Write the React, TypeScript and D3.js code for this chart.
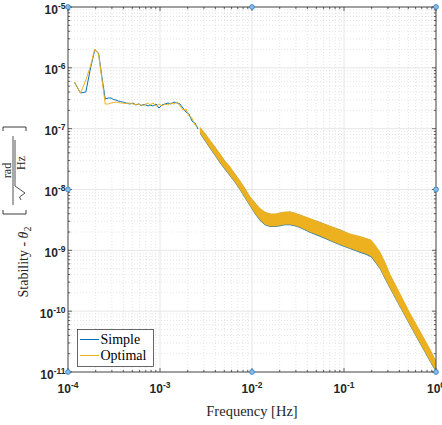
import React from 'react';
import * as d3 from 'd3';

const W = 442;
const H = 425;
const PL = 68, PR = 436, PT = 7, PB = 372;

// Low-frequency samples (sparse, linearly spaced bins)
const lowFreq = [1.172e-4, 1.367e-4, 1.5625e-4, 1.758e-4, 1.953e-4, 2.148e-4, 2.344e-4, 2.539e-4, 2.734e-4, 2.93e-4, 3.125e-4, 3.32e-4, 3.516e-4, 3.711e-4, 3.906e-4, 4.297e-4, 4.688e-4, 5.078e-4, 5.469e-4, 5.859e-4, 6.25e-4, 6.64e-4, 7.03e-4, 7.42e-4, 7.81e-4];
const simpleLow = [5.848e-7, 3.857e-7, 4.006e-7, 9.94e-7, 1.964e-6, 1.753e-6, 6.805e-7, 3.073e-7, 3.192e-7, 3.192e-7, 3.016e-7, 2.959e-7, 2.849e-7, 2.796e-7, 2.744e-7, 2.641e-7, 2.543e-7, 2.641e-7, 2.449e-7, 2.543e-7, 2.403e-7, 2.495e-7, 2.449e-7, 2.357e-7, 2.449e-7];
const optimalLow = [5.848e-7, 3.857e-7, 6.308e-7, 1.072e-6, 2.039e-6, 1.688e-6, 6.308e-7, 2.543e-7, 2.543e-7, 2.641e-7, 2.692e-7, 2.744e-7, 2.692e-7, 2.641e-7, 2.641e-7, 2.592e-7, 2.641e-7, 2.543e-7, 2.495e-7, 2.543e-7, 2.449e-7, 2.403e-7, 2.543e-7, 2.641e-7, 2.449e-7];

// Mid-frequency samples
const midFreq = [8.39e-4, 9.05e-4, 9.75e-4, 1.051e-3, 1.133e-3, 1.222e-3, 1.317e-3, 1.42e-3, 1.53e-3, 1.65e-3, 1.778e-3, 1.917e-3, 2.066e-3, 2.227e-3, 2.401e-3, 2.588e-3];
const simpleMid = [2.357e-7, 2.543e-7, 2.185e-7, 2.449e-7, 2.543e-7, 2.641e-7, 2.543e-7, 2.744e-7, 2.641e-7, 2.543e-7, 2.185e-7, 1.879e-7, 1.742e-7, 1.336e-7, 1.239e-7, 9.87e-8];
const optimalMid = [2.641e-7, 2.357e-7, 2.543e-7, 2.357e-7, 2.543e-7, 2.449e-7, 2.641e-7, 2.543e-7, 2.744e-7, 2.357e-7, 2.026e-7, 2.104e-7, 1.615e-7, 1.497e-7, 1.149e-7, 1.065e-7];

// High-frequency dense region: envelope of the noisy spectra
const bandFreq = [2.721e-3, 3.084e-3, 3.496e-3, 3.962e-3, 4.49e-3, 5.088e-3, 5.768e-3, 6.536e-3, 7.407e-3, 8.394e-3, 9.512e-3, 1.078e-2, 1.222e-2, 1.384e-2, 1.569e-2, 1.778e-2, 2.015e-2, 2.284e-2, 2.588e-2, 2.934e-2, 3.325e-2, 4.27e-2, 5.484e-2, 7.043e-2, 9.048e-2, 0.1162, 0.1492, 0.1734, 0.1965, 0.2173, 0.2462, 0.2791, 0.3162, 0.4062, 0.5217, 0.67, 0.8606, 1.0];
const simpleUpper = [1.03e-7, 8.4e-8, 6.3e-8, 5.05e-8, 3.8e-8, 2.98e-8, 2.3e-8, 1.82e-8, 1.37e-8, 1.05e-8, 7.5e-9, 6.1e-9, 4.8e-9, 4.2e-9, 4.0e-9, 3.9e-9, 4.15e-9, 4.2e-9, 4.35e-9, 4.05e-9, 3.85e-9, 3.3e-9, 2.92e-9, 2.48e-9, 2.2e-9, 1.83e-9, 1.67e-9, 1.58e-9, 1.46e-9, 1.2e-9, 9.2e-10, 6.25e-10, 4.0e-10, 1.9e-10, 9.1e-11, 4.6e-11, 2.35e-11, 1.5e-11];
const simpleLower = [8.23e-8, 6.2e-8, 4.67e-8, 3.58e-8, 2.69e-8, 2.11e-8, 1.65e-8, 1.29e-8, 9.7e-9, 7.16e-9, 5.29e-9, 3.93e-9, 3.07e-9, 2.59e-9, 2.41e-9, 2.41e-9, 2.49e-9, 2.59e-9, 2.59e-9, 2.49e-9, 2.32e-9, 1.95e-9, 1.68e-9, 1.42e-9, 1.21e-9, 1.05e-9, 9.16e-10, 8.49e-10, 7.72e-10, 6.39e-10, 4.9e-10, 3.36e-10, 2.33e-10, 1.157e-10, 5.74e-11, 2.9e-11, 1.47e-11, 1.0e-11];
const optimalUpper = [1.065e-7, 8.327e-8, 6.511e-8, 4.995e-8, 3.906e-8, 2.94e-8, 2.388e-8, 1.797e-8, 1.405e-8, 1.038e-8, 7.67e-9, 6.06e-9, 4.92e-9, 4.31e-9, 4.0e-9, 4.0e-9, 4.15e-9, 4.31e-9, 4.31e-9, 4.15e-9, 3.85e-9, 3.37e-9, 2.9e-9, 2.54e-9, 2.18e-9, 1.88e-9, 1.71e-9, 1.58e-9, 1.49e-9, 1.24e-9, 9.5e-10, 6.4e-10, 4.081e-10, 1.951e-10, 9.326e-11, 4.719e-11, 2.387e-11, 1.515e-11];
const optimalLower = [8.486e-8, 6.389e-8, 4.81e-8, 3.69e-8, 2.778e-8, 2.172e-8, 1.698e-8, 1.328e-8, 1.0e-8, 7.386e-9, 5.456e-9, 4.05e-9, 3.17e-9, 2.67e-9, 2.48e-9, 2.48e-9, 2.57e-9, 2.67e-9, 2.67e-9, 2.57e-9, 2.39e-9, 2.01e-9, 1.73e-9, 1.46e-9, 1.25e-9, 1.08e-9, 9.44e-10, 8.75e-10, 7.96e-10, 6.59e-10, 5.05e-10, 3.46e-10, 2.402e-10, 1.193e-10, 5.922e-11, 2.995e-11, 1.515e-11, 1.038e-11];

const xTickExps = [-4, -3, -2, -1, 0];
const yTickExps = [-11, -10, -9, -8, -7, -6, -5];
const markerFreq = [1e-4, 1e-2, 1, 1e-4, 1, 1e-4, 1e-2, 1];
const markerVal = [1e-5, 1e-5, 1e-5, 1e-8, 1e-8, 1e-11, 1e-11, 1e-11];
const seriesNames = ['Simple', 'Optimal'];
const seriesColors = ['#0072BD', '#EDB120'];

const x = d3.scaleLog().domain([1e-4, 1]).range([PL, PR]);
const y = d3.scaleLog().domain([1e-11, 1e-5]).range([PB, PT]);

const AX = '#262626';
const TICKFONT = "'Liberation Sans', Arial, sans-serif";
const SERIF = "'Liberation Serif', 'Times New Roman', serif";

function minorVals(lo: number, hi: number): number[] {
  const out: number[] = [];
  for (let e = lo; e < hi; e++) {
    for (let m = 2; m <= 9; m++) out.push(m * Math.pow(10, e));
  }
  return out;
}

export default function App() {
  const line = d3.line<[number, number]>().x(d => x(d[0])).y(d => y(d[1]));
  const idx = bandFreq.map((_, i) => i);

  const simplePts: [number, number][] = [
    ...lowFreq.map((f, i) => [f, simpleLow[i]] as [number, number]),
    ...midFreq.map((f, i) => [f, simpleMid[i]] as [number, number]),
  ];
  const optimalPts: [number, number][] = [
    ...lowFreq.map((f, i) => [f, optimalLow[i]] as [number, number]),
    ...midFreq.map((f, i) => [f, optimalMid[i]] as [number, number]),
  ];
  const simpleBand = d3.area<number>().x(i => x(bandFreq[i])).y0(i => y(simpleLower[i])).y1(i => y(simpleUpper[i]))(idx) || '';
  const optimalBand = d3.area<number>().x(i => x(bandFreq[i])).y0(i => y(optimalLower[i])).y1(i => y(optimalUpper[i]))(idx) || '';

  const xMinor = minorVals(-4, 0);
  const yMinor = minorVals(-11, -5);
  const xMajor = xTickExps.map(e => Math.pow(10, e));
  const yMajor = yTickExps.map(e => Math.pow(10, e));

  return (
    <svg width={W} height={H} style={{ position: 'absolute', left: 0, top: 0, background: '#fff' }}>
      <defs>
        <clipPath id="plotclip">
          <rect x={PL} y={PT} width={PR - PL} height={PB - PT} />
        </clipPath>
      </defs>
      <rect x={0} y={0} width={W} height={H} fill="#fff" />
      {/* minor grid */}
      <g stroke="#d4d4d4" strokeWidth={0.6} strokeDasharray="1,2">
        {xMinor.map((v, i) => <line key={'xm' + i} x1={x(v)} x2={x(v)} y1={PT} y2={PB} />)}
        {yMinor.map((v, i) => <line key={'ym' + i} x1={PL} x2={PR} y1={y(v)} y2={y(v)} />)}
      </g>
      {/* major grid */}
      <g stroke="#e0e0e0" strokeWidth={0.8}>
        {xMajor.map((v, i) => <line key={'xM' + i} x1={x(v)} x2={x(v)} y1={PT} y2={PB} />)}
        {yMajor.map((v, i) => <line key={'yM' + i} x1={PL} x2={PR} y1={y(v)} y2={y(v)} />)}
      </g>
      {/* data */}
      <g clipPath="url(#plotclip)">
        <path d={line(simplePts) || ''} fill="none" stroke={seriesColors[0]} strokeWidth={1} />
        <path d={simpleBand} fill={seriesColors[0]} stroke="none" />
        <path d={line(optimalPts) || ''} fill="none" stroke={seriesColors[1]} strokeWidth={1} />
        <path d={optimalBand} fill={seriesColors[1]} stroke={seriesColors[1]} strokeWidth={0.4} />
      </g>
      {/* axes box */}
      <rect x={PL} y={PT} width={PR - PL} height={PB - PT} fill="none" stroke={AX} strokeWidth={0.8} />
      <g stroke={AX} strokeWidth={0.7}>
        {xMajor.map((v, i) => (
          <g key={'xt' + i}>
            <line x1={x(v)} x2={x(v)} y1={PB} y2={PB - 4} />
            <line x1={x(v)} x2={x(v)} y1={PT} y2={PT + 4} />
          </g>
        ))}
        {xMinor.map((v, i) => (
          <g key={'xmt' + i}>
            <line x1={x(v)} x2={x(v)} y1={PB} y2={PB - 2.2} />
            <line x1={x(v)} x2={x(v)} y1={PT} y2={PT + 2.2} />
          </g>
        ))}
        {yMajor.map((v, i) => (
          <g key={'yt' + i}>
            <line x1={PL} x2={PL + 4} y1={y(v)} y2={y(v)} />
            <line x1={PR} x2={PR - 4} y1={y(v)} y2={y(v)} />
          </g>
        ))}
        {yMinor.map((v, i) => (
          <g key={'ymt' + i}>
            <line x1={PL} x2={PL + 2.2} y1={y(v)} y2={y(v)} />
            <line x1={PR} x2={PR - 2.2} y1={y(v)} y2={y(v)} />
          </g>
        ))}
      </g>
      {/* markers */}
      {markerFreq.map((f, i) => (
        <circle key={'mk' + i} cx={x(f)} cy={y(markerVal[i])} r={2.4} fill="#8cbce6" stroke="#2a7ec4" strokeWidth={0.8} />
      ))}
      {/* tick labels */}
      <g fontFamily={TICKFONT} fontWeight="bold" fill={AX}>
        {xTickExps.map((e, i) => (
          <text key={'xl' + i} x={x(Math.pow(10, e))} y={393} textAnchor="middle" fontSize={12}>
            10<tspan fontSize={8.5} dy={-5}>{e === 0 ? '0' : '-' + Math.abs(e)}</tspan>
          </text>
        ))}
        {yTickExps.map((e, i) => (
          <text key={'yl' + i} x={65.5} y={y(Math.pow(10, e)) + 6.5} textAnchor="end" fontSize={12}>
            10<tspan fontSize={8.5} dy={-5}>{'-' + Math.abs(e)}</tspan>
          </text>
        ))}
      </g>
      {/* x label */}
      <text x={(PL + PR) / 2} y={416} textAnchor="middle" fontFamily={SERIF} fontSize={14.5} fill={AX}>
        Frequency [Hz]
      </text>
      {/* y label */}
      <g transform="rotate(-90)" fontFamily={SERIF} fill={AX}>
        <text x={-262} y={28} textAnchor="middle" fontSize={14}>
          Stability - <tspan fontStyle="italic">θ</tspan><tspan fontSize={10} dy={3}>2</tspan>
        </text>
        <g stroke={AX} strokeWidth={0.9} fill="none">
          <path d="M -210 3 L -214 3 L -214 26 L -210 26" />
          <path d="M -131 3 L -127 3 L -127 26 L -131 26" />
          <line x1={-205} x2={-136} y1={13} y2={13} strokeWidth={0.8} />
          <path d="M -200 21 L -197 19.5 L -193 25 L -186 15 L -140 15" strokeWidth={0.8} />
        </g>
        <text x={-170.5} y={11} textAnchor="middle" fontSize={12}>rad</text>
        <text x={-163} y={24.5} textAnchor="middle" fontSize={12}>Hz</text>
      </g>
      {/* legend */}
      <g>
        <rect x={77.5} y={329.5} width={76} height={37} fill="#fff" stroke={AX} strokeWidth={0.7} />
        {seriesNames.map((n, i) => (
          <g key={'lg' + i}>
            <line x1={80} x2={99} y1={339.5 + i * 16} y2={339.5 + i * 16} stroke={seriesColors[i]} strokeWidth={1} />
            <text x={100.5} y={344 + i * 16} fontFamily={SERIF} fontSize={14} fill="#000">{n}</text>
          </g>
        ))}
      </g>
    </svg>
  );
}
